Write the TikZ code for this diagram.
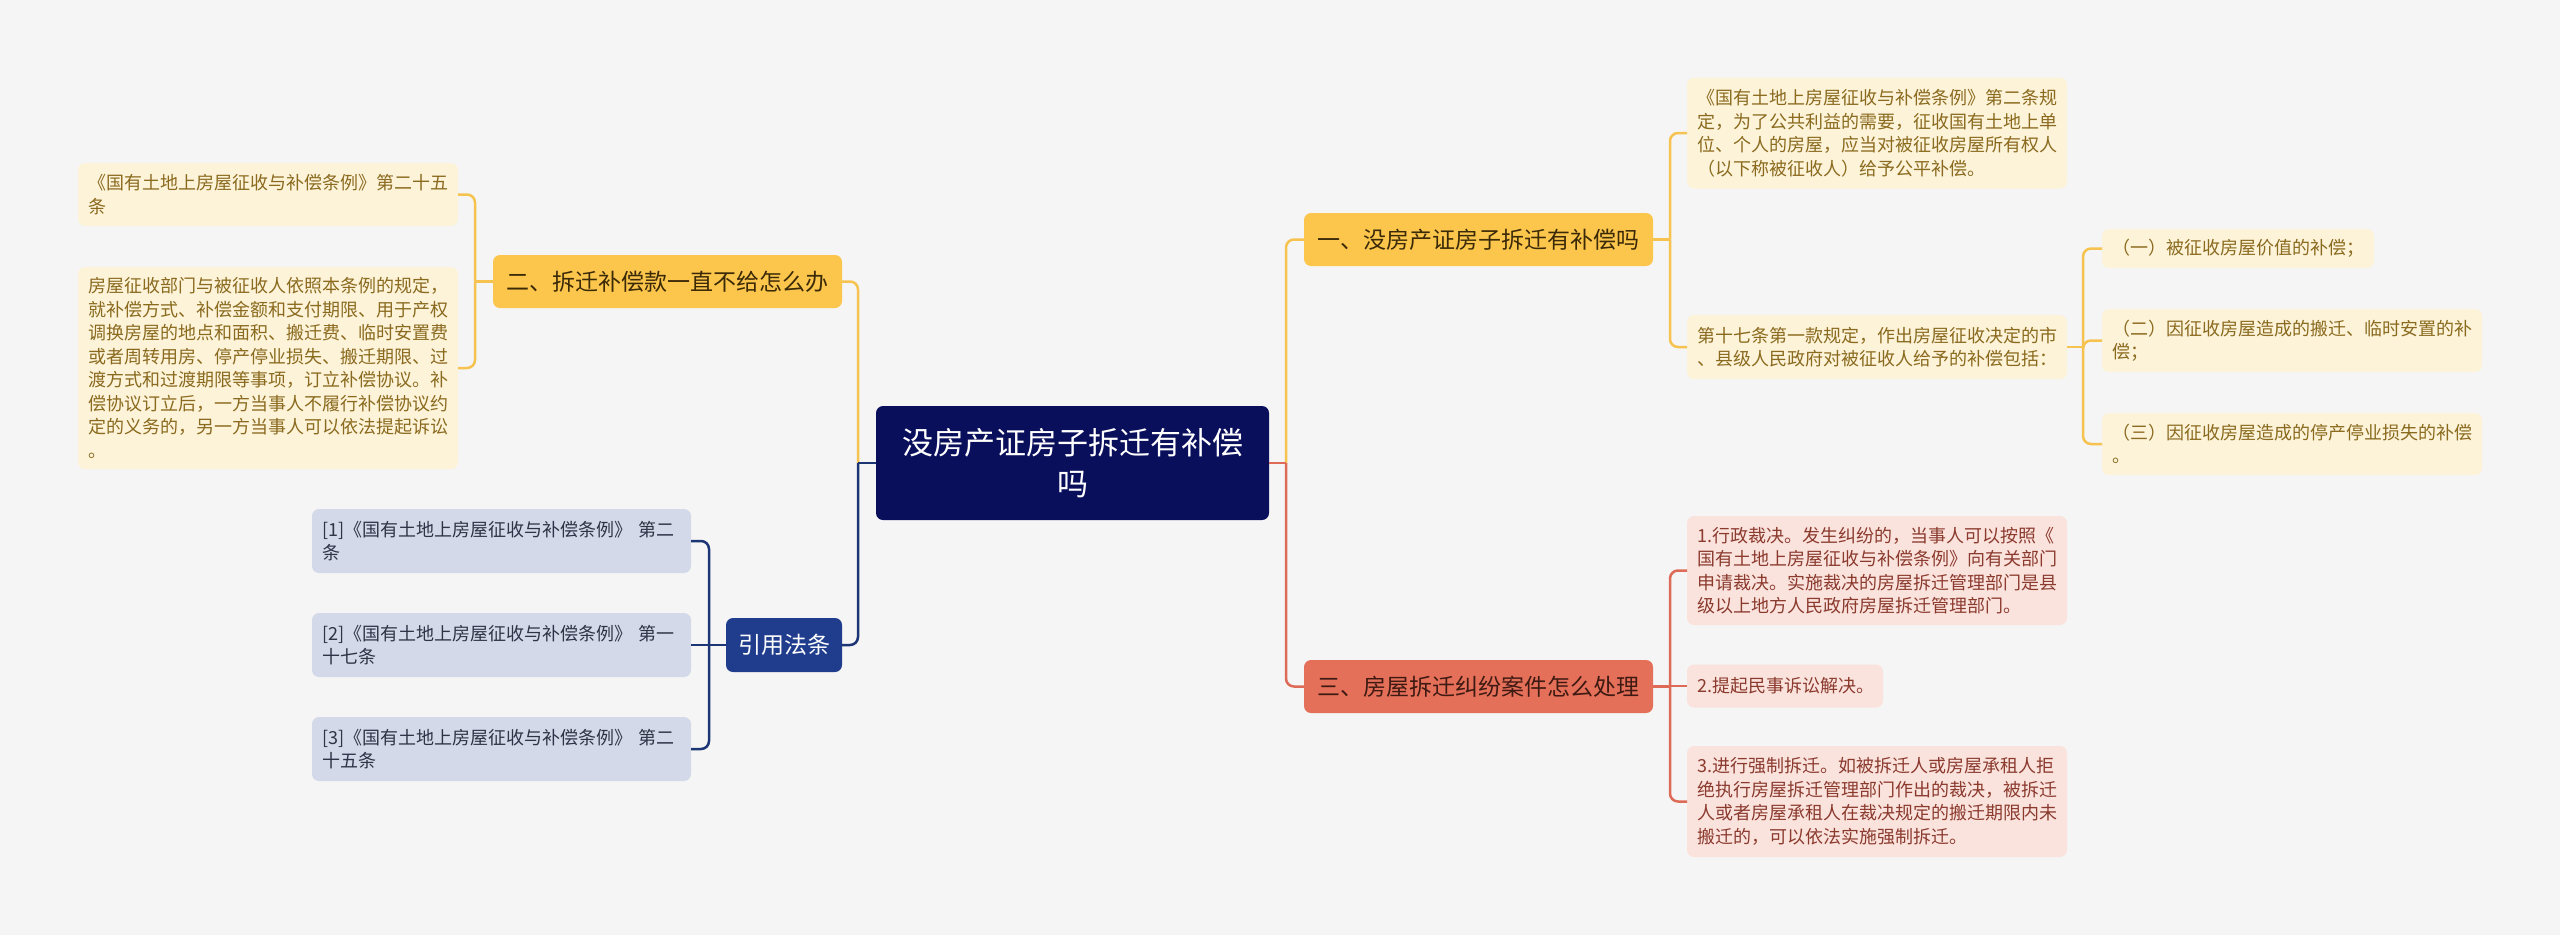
\documentclass[tikz,border=0pt]{standalone}
\usepackage{fontspec}
\setmainfont{Noto Sans CJK SC}
\definecolor{bgc}{HTML}{F5F5F5}
\definecolor{navy}{HTML}{0A0F5C}
\definecolor{ymain}{HTML}{FCC64C}
\definecolor{ymaintx}{HTML}{3B2A08}
\definecolor{yleafbg}{HTML}{FDF3D9}
\definecolor{yleaftx}{HTML}{8A6A1E}
\definecolor{yline}{HTML}{F6C350}
\definecolor{rmain}{HTML}{E5705A}
\definecolor{rmaintx}{HTML}{3E1A12}
\definecolor{rleafbg}{HTML}{FBE3DD}
\definecolor{rleaftx}{HTML}{8B3A2E}
\definecolor{rline}{HTML}{DD6B57}
\definecolor{bmain}{HTML}{1F3D8C}
\definecolor{bleafbg}{HTML}{D3D9E8}
\definecolor{bleaftx}{HTML}{2D3447}
\definecolor{bline}{HTML}{1C3675}
\tikzset{
  boxbase/.style={rounded corners=7pt, outer sep=0pt, inner ysep=0pt, inner xsep=10pt},
  leafbase/.style={boxbase, anchor=west, align=left, font=\fontsize{18}{23.5}\selectfont},
  yleaf/.style={leafbase, fill=yleafbg, text=yleaftx},
  rleaf/.style={leafbase, fill=rleafbg, text=rleaftx},
  bleaf/.style={leafbase, fill=bleafbg, text=bleaftx},
  mainbase/.style={boxbase, anchor=center, align=center, font=\fontsize{23}{28}\selectfont, minimum height=53pt},
  ytopic/.style={mainbase, fill=ymain, text=ymaintx, minimum width=349pt},
  rtopic/.style={mainbase, fill=rmain, text=rmaintx, minimum width=349pt},
  btopic/.style={mainbase, fill=bmain, text=white, minimum width=116pt, minimum height=54pt},
  ylink/.style={draw=yline, line width=2.5pt},
  rlink/.style={draw=rline, line width=2.5pt},
  blink/.style={draw=bline, line width=2.5pt},
  rc/.style={rounded corners=8pt}
}
\begin{document}
\begin{tikzpicture}[x=1pt,y=-1pt]
\useasboundingbox (0,0) rectangle (2560,935);
\fill[bgc] (0,0) rectangle (2560,935);

% central node
\node[boxbase, fill=navy, text=white, align=center, minimum width=393pt, minimum height=114pt,
      font=\fontsize{31}{41}\selectfont] (c) at (1072.5,463) {没房产证房子拆迁有补偿\\吗};

% topics
\node[ytopic] (n1) at (1478.5,239.5) {一、没房产证房子拆迁有补偿吗};
\node[ytopic] (n2) at (667.5,281.5) {二、拆迁补偿款一直不给怎么办};
\node[rtopic] (n3) at (1478.5,686.5) {三、房屋拆迁纠纷案件怎么处理};
\node[btopic] (ref) at (784,645) {引用法条};

% left yellow leaves
\node[yleaf, text width=360pt, minimum height=63pt] (la) at (78,194.5)
 {《国有土地上房屋征收与补偿条例》第二十五\\条};
\node[yleaf, text width=360pt, minimum height=202pt] (lb) at (78,368)
 {房屋征收部门与被征收人依照本条例的规定，\\就补偿方式、补偿金额和支付期限、用于产权\\调换房屋的地点和面积、搬迁费、临时安置费\\或者周转用房、停产停业损失、搬迁期限、过\\渡方式和过渡期限等事项，订立补偿协议。补\\偿协议订立后，一方当事人不履行补偿协议约\\定的义务的，另一方当事人可以依法提起诉讼\\。};

% citations
\node[bleaf, text width=359pt, minimum height=64pt] (ca) at (312,541)
 {[1]《国有土地上房屋征收与补偿条例》 第二\\条};
\node[bleaf, text width=359pt, minimum height=64pt] (cb) at (312,645)
 {[2]《国有土地上房屋征收与补偿条例》 第一\\十七条};
\node[bleaf, text width=359pt, minimum height=64pt] (cc) at (312,749)
 {[3]《国有土地上房屋征收与补偿条例》 第二\\十五条};

% right yellow leaves
\node[yleaf, text width=360pt, minimum height=111pt] (ra) at (1687,133)
 {《国有土地上房屋征收与补偿条例》第二条规\\定，为了公共利益的需要，征收国有土地上单\\位、个人的房屋，应当对被征收房屋所有权人\\（以下称被征收人）给予公平补偿。};
\node[yleaf, text width=360pt, minimum height=64pt] (rb) at (1687,347)
 {第十七条第一款规定，作出房屋征收决定的市\\、县级人民政府对被征收人给予的补偿包括：};
\node[yleaf, text width=252pt, minimum height=39pt] (sa) at (2102,248.5)
 {（一）被征收房屋价值的补偿；};
\node[yleaf, text width=360pt, minimum height=63pt] (sb) at (2102,340.5)
 {（二）因征收房屋造成的搬迁、临时安置的补\\偿；};
\node[yleaf, text width=360pt, minimum height=62pt] (sc) at (2102,444)
 {（三）因征收房屋造成的停产停业损失的补偿\\。};

% right red leaves
\node[rleaf, text width=360pt, minimum height=109pt] (ta) at (1687,570.5)
 {1.行政裁决。发生纠纷的，当事人可以按照《\\国有土地上房屋征收与补偿条例》向有关部门\\申请裁决。实施裁决的房屋拆迁管理部门是县\\级以上地方人民政府房屋拆迁管理部门。};
\node[rleaf, text width=176pt, minimum height=43pt] (tb) at (1687,686)
 {2.提起民事诉讼解决。};
\node[rleaf, text width=360pt, minimum height=111pt] (tc) at (1687,801.5)
 {3.进行强制拆迁。如被拆迁人或房屋承租人拒\\绝执行房屋拆迁管理部门作出的裁决，被拆迁\\人或者房屋承租人在裁决规定的搬迁期限内未\\搬迁的，可以依法实施强制拆迁。};

% connectors from centre
\draw[ylink] (c.west) -- ++(-18,0) coordinate (cl);
\draw[ylink, rc] (cl) |- (n2.east);
\draw[blink] (c.west) -- (cl);
\draw[blink, rc] (cl) |- (ref.east);
\draw[ylink] (c.east) -- ++(17,0) coordinate (cr);
\draw[ylink, rc] (cr) |- (n1.west);
\draw[rlink] (c.east) -- (cr);
\draw[rlink, rc] (cr) |- (n3.west);

% topic 二
\draw[ylink] (n2.west) -- ++(-18,0) coordinate (b2);
\draw[ylink, rc] (b2) |- (la.east);
\draw[ylink, rc] (b2) |- (lb.east);

% references
\draw[blink] (ref.west) -- ++(-17,0) coordinate (bref);
\draw[blink, rc] (bref) |- (ca.east);
\draw[blink] (bref) -- (cb.east);
\draw[blink, rc] (bref) |- (cc.east);

% topic 一
\draw[ylink] (n1.east) -- ++(17,0) coordinate (b1);
\draw[ylink, rc] (b1) |- (ra.west);
\draw[ylink, rc] (b1) |- (rb.west);
\draw[ylink] (rb.east) -- ++(16,0) coordinate (bs);
\draw[ylink, rc] (bs) |- (sa.west);
\draw[ylink, rc] (bs) |- (sb.west);
\draw[ylink, rc] (bs) |- (sc.west);

% topic 三
\draw[rlink] (n3.east) -- ++(17,0) coordinate (b3);
\draw[rlink, rc] (b3) |- (ta.west);
\draw[rlink] (b3) |- (tb.west);
\draw[rlink, rc] (b3) |- (tc.west);
\end{tikzpicture}
\end{document}
